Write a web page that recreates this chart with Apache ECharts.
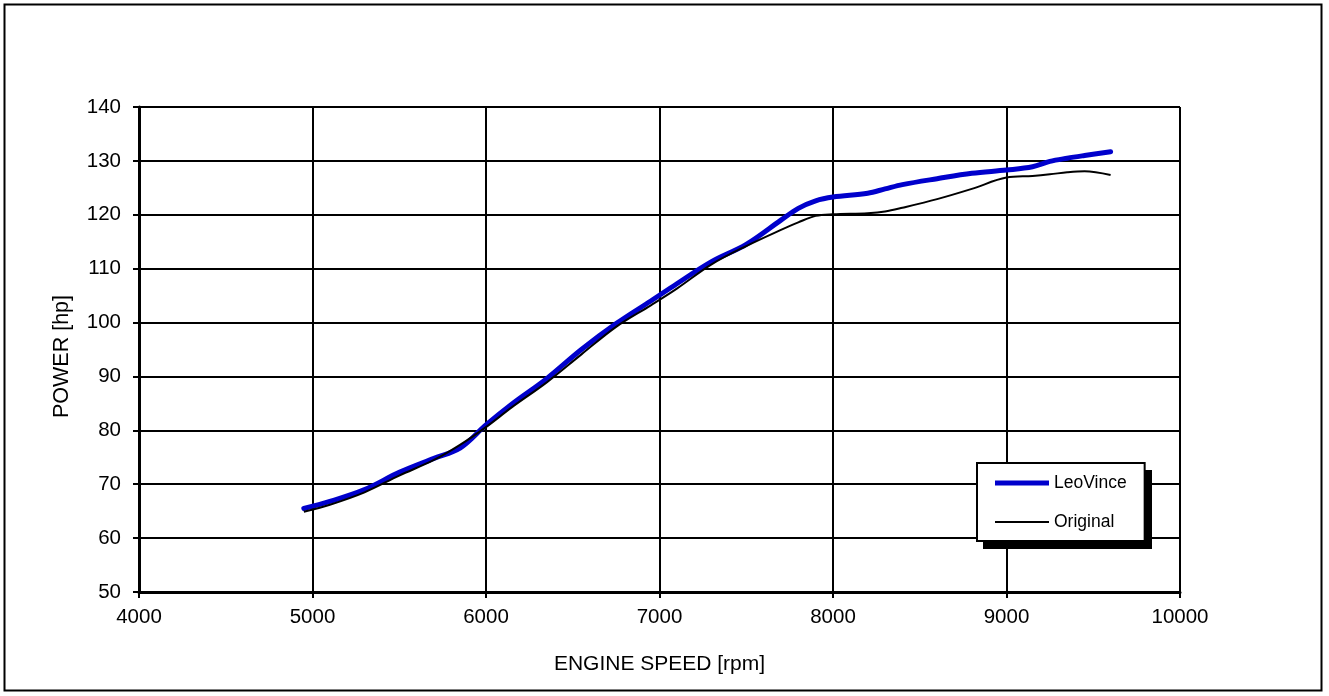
<!DOCTYPE html>
<html>
<head>
<meta charset="utf-8">
<script src="https://cdn.jsdelivr.net/npm/echarts@6/dist/echarts.min.js"></script>
<style>
html,body{margin:0;padding:0;background:#fff;}
#chart{width:1329px;height:696px;}
</style>
</head>
<body>
<div id="chart"></div>
<script>
const rpm = [4950, 5100, 5300, 5500, 5700, 5850, 6000, 6150, 6350, 6550, 6750, 6950, 7100, 7300, 7500, 7700, 7800, 7900, 8000, 8200, 8300, 8400, 8600, 8800, 9000, 9150, 9250, 9350, 9450, 9600];
const leoVince = [65.5, 66.8, 69.0, 72.2, 74.8, 76.7, 81.0, 84.9, 89.6, 95.0, 99.8, 104.0, 107.2, 111.3, 114.5, 119.0, 121.2, 122.6, 123.3, 124.0, 124.8, 125.6, 126.7, 127.7, 128.3, 128.9, 129.9, 130.5, 131.0, 131.7];
const original = [64.9, 66.2, 68.5, 71.6, 74.5, 77.3, 80.6, 84.3, 88.9, 94.1, 99.2, 103.2, 106.3, 110.8, 114.2, 117.2, 118.6, 119.8, 120.1, 120.3, 120.6, 121.3, 122.9, 124.8, 126.9, 127.2, 127.5, 127.9, 128.1, 127.4];
const seriesNames = ['LeoVince', 'Original'];
const xTitle = 'ENGINE SPEED [rpm]';
const yTitle = 'POWER [hp]';

const pairs = (ys) => rpm.map((x, i) => [x, ys[i]]);
const font = 'Liberation Sans, Arial, sans-serif';

const chart = echarts.init(document.getElementById('chart'));
chart.setOption({
  backgroundColor: '#fff',
  animation: false,
  grid: { left: 139, right: 149, top: 107, bottom: 104, containLabel: false },
  xAxis: {
    type: 'value', min: 4000, max: 10000, interval: 1000,
    name: xTitle, nameLocation: 'middle', nameGap: 62,
    nameTextStyle: { fontFamily: font, fontSize: 21, color: '#000' },
    axisLine: { show: true, onZero: false, lineStyle: { color: '#000', width: 3 } },
    axisTick: { show: true, inside: false, length: 6, lineStyle: { color: '#000', width: 2 } },
    axisLabel: { margin: 15, fontFamily: font, fontSize: 20.5, color: '#000', formatter: (v) => String(v) },
    splitLine: { show: true, lineStyle: { color: '#000', width: 2 } }
  },
  yAxis: {
    type: 'value', min: 50, max: 140, interval: 10,
    name: yTitle, nameLocation: 'middle', nameGap: 66, nameRotate: 90,
    nameTextStyle: { fontFamily: font, fontSize: 21.5, color: '#000', padding: [0, 14, 0, 0] },
    axisLine: { show: true, onZero: false, lineStyle: { color: '#000', width: 3 } },
    axisTick: { show: true, inside: false, length: 6, lineStyle: { color: '#000', width: 2 } },
    axisLabel: { margin: 18, fontFamily: font, fontSize: 20.5, color: '#000', formatter: (v) => String(v) },
    splitLine: { show: true, lineStyle: { color: '#000', width: 2 } }
  },
  legend: {
    orient: 'vertical', left: 977, top: 463,
    data: [
      { name: seriesNames[0], icon: 'path://M0,0H54V5H0Z' },
      { name: seriesNames[1], icon: 'path://M0,0H54V2H0Z' }
    ],
    symbolKeepAspect: true,
    itemWidth: 54, itemHeight: 18, itemGap: 21,
    padding: [11, 18, 10, 18],
    backgroundColor: '#fff',
    borderColor: '#000', borderWidth: 2, borderRadius: 0,
    textStyle: { fontFamily: font, fontSize: 17.5, color: '#000', lineHeight: 18 },
    z: 10
  },
  graphic: [
    {
      type: 'rect', silent: true, z: -10,
      shape: { x: 4.5, y: 4.5, width: 1317, height: 686 },
      style: { fill: 'none', stroke: '#000', lineWidth: 2 }
    },
    {
      type: 'rect', silent: true, z: 9,
      shape: { x: 983, y: 470, width: 169, height: 79 },
      style: { fill: '#000' }
    }
  ],
  series: [
    {
      name: seriesNames[0], type: 'line', data: pairs(leoVince),
      smooth: 0.35, symbol: 'none', showSymbol: false,
      lineStyle: { color: '#0000CC', width: 5, cap: 'round' }, itemStyle: { color: '#0000CC' },
      z: 3
    },
    {
      name: seriesNames[1], type: 'line', data: pairs(original),
      smooth: 0.35, symbol: 'none', showSymbol: false,
      lineStyle: { color: '#000', width: 2 }, itemStyle: { color: '#000' },
      z: 4
    }
  ]
});
</script>
</body>
</html>
